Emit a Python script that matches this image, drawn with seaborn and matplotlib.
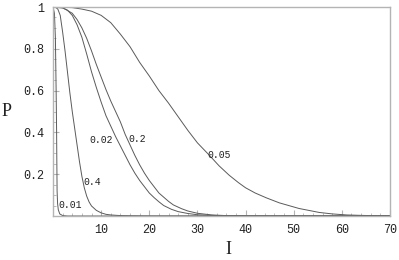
import matplotlib
matplotlib.use("Agg")
import matplotlib.pyplot as plt
import seaborn as sns
import pandas as pd
from matplotlib.ticker import MultipleLocator, FixedLocator

# ---- data ----
x_001 = [0, 0.3, 0.5, 0.65, 0.75, 0.8, 0.85, 0.95, 1.1, 1.4, 2.0, 3.0, 70]
p_001 = [1, 0.97, 0.85, 0.6, 0.4, 0.25, 0.12, 0.06, 0.03, 0.01, 0.002, 0, 0]

x_04 = [0, 0.5, 1, 1.5, 2, 2.5, 3, 3.5, 4, 4.5, 5, 5.5, 6, 6.5, 7, 7.5, 8, 9, 10, 11, 12, 14, 16, 20, 70]
p_04 = [1, 0.999, 0.99, 0.96, 0.88, 0.79, 0.69, 0.59, 0.5, 0.42, 0.34, 0.26, 0.19, 0.135, 0.095,
        0.067, 0.048, 0.027, 0.015, 0.008, 0.005, 0.002, 0.001, 0, 0]

x_002 = [0, 2, 3, 4, 5, 6, 7, 8, 9, 10, 11, 12, 13, 14, 15, 16, 17, 18, 19, 20, 21, 22, 23,
         24.6, 26, 28, 30, 33, 36, 40, 70]
p_002 = [1, 0.995, 0.985, 0.96, 0.915, 0.855, 0.775, 0.69, 0.615, 0.545, 0.48, 0.43, 0.38,
         0.335, 0.29, 0.245, 0.205, 0.17, 0.14, 0.11, 0.088, 0.068, 0.05, 0.032, 0.021, 0.012,
         0.006, 0.003, 0.001, 0, 0]

x_02 = [0, 2, 4, 5, 6, 7, 8, 9, 10, 11, 12, 13, 14, 15, 16, 17, 18, 19, 20, 21, 22, 23, 24,
        25, 26.7, 28, 30, 33, 36, 40, 45, 70]
p_02 = [1, 0.997, 0.97, 0.94, 0.9, 0.85, 0.79, 0.725, 0.665, 0.605, 0.55, 0.5, 0.45, 0.39,
        0.34, 0.29, 0.245, 0.205, 0.17, 0.14, 0.11, 0.09, 0.07, 0.053, 0.035, 0.024, 0.013,
        0.005, 0.002, 0.001, 0, 0]

x_005 = [0, 4, 6, 8, 10, 12, 14, 16, 18, 20, 22, 24, 26, 28, 30, 32.5, 34.5, 36.6, 38.5, 40,
         42, 44.3, 47, 51.1, 55.3, 58, 61, 64, 67, 70]
p_005 = [1, 0.997, 0.99, 0.98, 0.96, 0.925, 0.87, 0.81, 0.735, 0.67, 0.6, 0.54, 0.475, 0.41,
         0.35, 0.29, 0.24, 0.195, 0.16, 0.135, 0.11, 0.087, 0.063, 0.036, 0.017, 0.01, 0.005,
         0.003, 0.0015, 0.001]

curve_labels = ["0.01", "0.4", "0.02", "0.2", "0.05"]
label_x = [1.2, 6.4, 7.6, 15.7, 32.1]
label_y = [0.053, 0.163, 0.364, 0.368, 0.292]

x_ticks = [10, 20, 30, 40, 50, 60, 70]
y_ticks = [0.2, 0.4, 0.6, 0.8, 1.0]
y_tick_labels = ["0.2", "0.4", "0.6", "0.8", "1"]

# ---- plotting ----
sns.set_theme(style="white")
plt.rcParams['font.family'] = ['Liberation Mono', 'DejaVu Sans']

fig = plt.figure(figsize=(3.99, 2.60), dpi=100)
ax = fig.add_axes([53/399, 1 - 216/260, (390 - 53)/399, (216 - 7)/260])

line_color = "#5a5a5a"
for xs, ps in [(x_001, p_001), (x_04, p_04), (x_002, p_002), (x_02, p_02), (x_005, p_005)]:
    df = pd.DataFrame({"I": xs, "P": ps})
    sns.lineplot(data=df, x="I", y="P", ax=ax, color=line_color, linewidth=0.7,
                 sort=False, estimator=None)

for t, lx, ly in zip(curve_labels, label_x, label_y):
    ax.text(lx, ly, t, fontsize=7, color="#222222", ha="left", va="center",
            family=['Liberation Mono', 'DejaVu Sans'])

ax.set_xlim(0, 70)
ax.set_ylim(0, 1)
ax.xaxis.set_major_locator(FixedLocator(x_ticks))
ax.xaxis.set_minor_locator(MultipleLocator(2))
ax.yaxis.set_major_locator(FixedLocator(y_ticks))
ax.yaxis.set_minor_locator(MultipleLocator(0.05))
ax.set_xticklabels([str(v) for v in x_ticks])
ax.set_yticklabels(y_tick_labels)

frame_color = "#b4b4b4"
for s in ax.spines.values():
    s.set_color(frame_color)
    s.set_linewidth(1.0)

ax.tick_params(axis="both", which="major", direction="in", length=4, width=0.8,
               color=frame_color, labelsize=8.5, labelcolor="#222222", pad=6)
ax.tick_params(axis="both", which="minor", direction="in", length=2, width=0.6,
               color=frame_color)
ax.tick_params(axis="x", which="both", bottom=True, top=False)
ax.tick_params(axis="y", which="both", left=True, right=False)

ax.set_xlabel("I", family=['Liberation Serif'], fontsize=13, color="#222222", va="center")
ax.xaxis.set_label_coords((228 - 53) / 337, (216 - 249) / 209)
ax.set_ylabel("P", family=['Liberation Serif'], fontsize=13, color="#222222", rotation=0,
              va="center", ha="center")
ax.yaxis.set_label_coords((7 - 53) / 337, (216 - 112) / 209)

fig.savefig("out.png", dpi=100)
